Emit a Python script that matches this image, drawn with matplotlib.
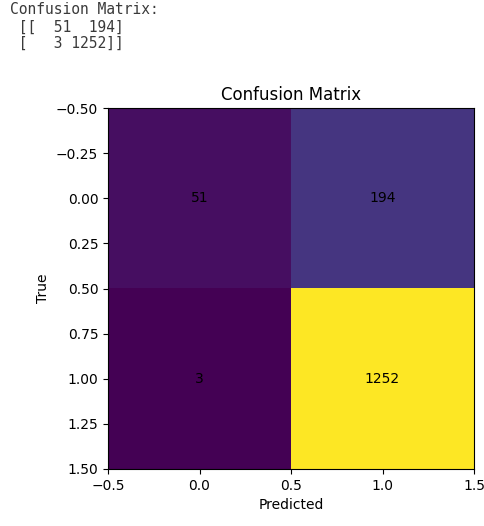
import matplotlib
matplotlib.use("Agg")
import matplotlib.pyplot as plt
import numpy as np

true_labels = [0, 1]
pred_labels = [0, 1]
cm_values = [[51, 194], [3, 1252]]
printed_lines = ["Confusion Matrix:", " [[  51  194]", " [   3 1252]]"]

cm = np.array(cm_values)

fig = plt.figure(figsize=(4.85, 5.26), dpi=100)
ax = fig.add_axes([108/485, 1 - 469/526, 366/485, 361/526])
ax.imshow(cm, cmap="viridis", aspect="auto")
for i in range(cm.shape[0]):
    for j in range(cm.shape[1]):
        ax.text(j, i, str(cm[i, j]), ha="center", va="center", color="black", fontsize=10)
ax.set_title("Confusion Matrix", fontsize=12)
ax.set_xlabel("Predicted", fontsize=10)
ax.set_ylabel("True", fontsize=10)
ax.set_xticks(np.arange(-0.5, 1.51, 0.5))
ax.set_yticks(np.arange(-0.5, 1.51, 0.25))

ys = [10, 27, 43]
for line, y in zip(printed_lines, ys):
    fig.text(10/485, 1 - y/526, line, family="DejaVu Sans Mono", fontsize=10.5,
             color="#3a3a3a", va="center", ha="left")

fig.savefig("out.png", dpi=100)
